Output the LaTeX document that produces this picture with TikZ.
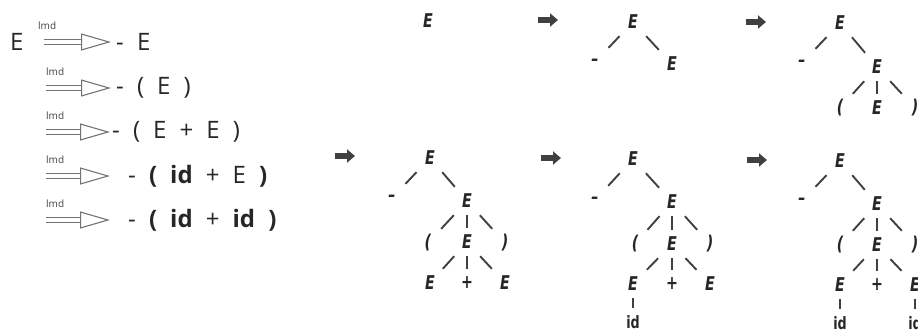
\documentclass[tikz,border=0pt]{standalone}
\usepackage{fontspec}
\setmainfont{Open Sans}
\newfontfamily\derivfont[WordSpace=2.1]{Open Sans}
\newfontfamily\treefont[FakeStretch=0.75]{DejaVu Sans}
\usepackage{tikz}
\usetikzlibrary{arrows.meta,positioning}
\tikzset{>=stealth}

\begin{document}
\begin{tikzpicture}[x=1pt,y=-1pt,
    deriv/.style={font=\derivfont\fontsize{24}{28}\selectfont, text=black!85, inner sep=0pt, anchor=west},
    lmdlab/.style={font=\derivfont\fontsize{10}{11}\selectfont, text=black!75, inner sep=0pt, anchor=south west},
    lmdarrow/.style={draw=black!55, line width=1.1pt, double=white, double distance=3.6pt,
      -{Triangle[open, length=30pt, width=17pt, line width=1.1pt]}},
    tnode/.style={font=\treefont\bfseries\itshape\fontsize{19}{19}\selectfont, text=black!85, minimum width=28pt, minimum height=28pt, inner sep=0pt},
    tid/.style={font=\treefont\bfseries\fontsize{17}{17}\selectfont, text=black!85, minimum width=28pt, minimum height=28pt, inner sep=0pt},
    tedge/.style={line width=1.9pt, black!75},
    tstep/.style={line width=6pt, black!75, -{Triangle[length=8pt, width=13pt]}}]
    \useasboundingbox (0,0) rectangle (918,333);

    % leftmost derivation, written out
    \node[deriv] (l0) at (10,42) {E};
    \node[deriv] (d1) at (116,42) {- E};
    \node[lmdlab] (m1) at (38,30) {lmd};
    \draw[lmdarrow, shorten <=20pt, shorten >=5pt] (l0) -- (d1);

    \coordinate (s2) at (46,88);
    \node[deriv] (d2) at (116,88) {- ( E )};
    \node[lmdlab] (m2) at (46,76) {lmd};
    \draw[lmdarrow, shorten >=5pt] (s2) -- (d2);

    \coordinate (s3) at (46,132);
    \node[deriv] (d3) at (112,132) {- ( E + E )};
    \node[lmdlab] (m3) at (46,120) {lmd};
    \draw[lmdarrow, shorten >=2pt] (s3) -- (d3);

    \coordinate (s4) at (46,176);
    \node[deriv] (d4) at (128,176) {- \textbf{(} \textbf{id} + E \textbf{)}};
    \node[lmdlab] (m4) at (46,164) {lmd};
    \draw[lmdarrow, shorten >=18pt] (s4) -- (d4);

    \coordinate (s5) at (46,220);
    \node[deriv] (d5) at (128,220) {- \textbf{( id} + \textbf{id )}};
    \node[lmdlab] (m5) at (46,208) {lmd};
    \draw[lmdarrow, shorten >=18pt] (s5) -- (d5);

    % the same derivation as parse trees
    \node[tnode] (aE) at (428,21) {E};
    \coordinate (r1) at (548,20);
    \draw[tstep] ([xshift=-10pt]r1) -- ([xshift=10pt]r1);

    \node[tnode] (bE) at (633,22) {E};
    \node[tnode] (bM) at (595,62) {–};
    \node[tnode] (bR) at (672,64) {E};
    \draw[tedge] (bE) -- (bM);
    \draw[tedge] (bE) -- (bR);
    \coordinate (r2) at (756,22);
    \draw[tstep] ([xshift=-10pt]r2) -- ([xshift=10pt]r2);

    \node[tnode] (cE) at (840,23) {E};
    \node[tnode] (cM) at (802,63) {–};
    \node[tnode] (cR) at (877,67) {E};
    \node[tnode] (cL) at (840,108) {(};
    \node[tnode] (cC) at (877,108) {E};
    \node[tnode] (cP) at (915,108) {)};
    \draw[tedge] (cE) -- (cM);
    \draw[tedge] (cE) -- (cR);
    \draw[tedge] (cR) -- (cL);
    \draw[tedge] (cR) -- (cC);
    \draw[tedge] (cR) -- (cP);

    \coordinate (r3) at (345,156);
    \draw[tstep] ([xshift=-10pt]r3) -- ([xshift=10pt]r3);
    \node[tnode] (dE) at (430,158) {E};
    \node[tnode] (dM) at (392,198) {–};
    \node[tnode] (dR) at (467,201) {E};
    \node[tnode] (dL) at (428,243) {(};
    \node[tnode] (dC) at (467,242) {E};
    \node[tnode] (dP) at (505,243) {)};
    \node[tnode] (dA) at (430,283) {E};
    \node[tnode] (dS) at (467,283) {+};
    \node[tnode] (dB) at (505,283) {E};
    \draw[tedge] (dE) -- (dM);
    \draw[tedge] (dE) -- (dR);
    \draw[tedge] (dR) -- (dL);
    \draw[tedge] (dR) -- (dC);
    \draw[tedge] (dR) -- (dP);
    \draw[tedge] (dC) -- (dA);
    \draw[tedge] (dC) -- (dS);
    \draw[tedge] (dC) -- (dB);

    \coordinate (r4) at (551,158);
    \draw[tstep] ([xshift=-10pt]r4) -- ([xshift=10pt]r4);
    \node[tnode] (eE) at (633,159) {E};
    \node[tnode] (eM) at (595,200) {–};
    \node[tnode] (eR) at (672,202) {E};
    \node[tnode] (eL) at (635,244) {(};
    \node[tnode] (eC) at (672,244) {E};
    \node[tnode] (eP) at (710,244) {)};
    \node[tnode] (eA) at (633,284) {E};
    \node[tnode] (eS) at (672,284) {+};
    \node[tnode] (eB) at (710,284) {E};
    \node[tid] (eI) at (633,322) {id};
    \draw[tedge] (eE) -- (eM);
    \draw[tedge] (eE) -- (eR);
    \draw[tedge] (eR) -- (eL);
    \draw[tedge] (eR) -- (eC);
    \draw[tedge] (eR) -- (eP);
    \draw[tedge] (eC) -- (eA);
    \draw[tedge] (eC) -- (eS);
    \draw[tedge] (eC) -- (eB);
    \draw[tedge] (eA) -- (eI);

    \coordinate (r5) at (757,160);
    \draw[tstep] ([xshift=-10pt]r5) -- ([xshift=10pt]r5);
    \node[tnode] (fE) at (840,161) {E};
    \node[tnode] (fM) at (802,201) {–};
    \node[tnode] (fR) at (877,204) {E};
    \node[tnode] (fL) at (840,245) {(};
    \node[tnode] (fC) at (877,245) {E};
    \node[tnode] (fP) at (915,245) {)};
    \node[tnode] (fA) at (840,285) {E};
    \node[tnode] (fS) at (877,285) {+};
    \node[tnode] (fB) at (915,285) {E};
    \node[tid] (fI) at (840,323) {id};
    \node[tid] (fJ) at (915,323) {id};
    \draw[tedge] (fE) -- (fM);
    \draw[tedge] (fE) -- (fR);
    \draw[tedge] (fR) -- (fL);
    \draw[tedge] (fR) -- (fC);
    \draw[tedge] (fR) -- (fP);
    \draw[tedge] (fC) -- (fA);
    \draw[tedge] (fC) -- (fS);
    \draw[tedge] (fC) -- (fB);
    \draw[tedge] (fA) -- (fI);
    \draw[tedge] (fB) -- (fJ);
\end{tikzpicture}
\end{document}
